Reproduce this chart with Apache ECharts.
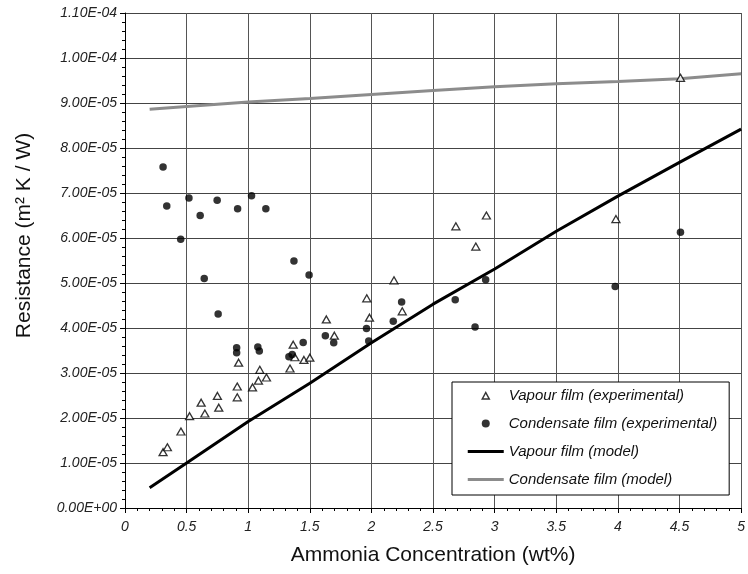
<!DOCTYPE html>
<html>
<head>
<meta charset="utf-8">
<script src="https://cdn.jsdelivr.net/npm/echarts@6/dist/echarts.min.js"></script>
<style>
  html, body { margin: 0; padding: 0; background: #fff; }
  #chart { width: 748px; height: 574px; }
</style>
</head>
<body>
<div id="chart"></div>
<script>
// values; resistance in units of 1E-05 m2 K / W
var UNIT = 1e-5;

var vapourExpX = [0.309, 0.344, 0.454, 0.524, 0.618, 0.648, 0.750, 0.761, 0.911, 0.911, 0.922,
  1.035, 1.083, 1.094, 1.148, 1.339, 1.365, 1.379, 1.452, 1.500, 1.634, 1.699, 1.962, 1.984,
  2.183, 2.250, 2.685, 2.847, 2.933, 3.984, 4.508];
var vapourExpY = [1.24, 1.35, 1.70, 2.04, 2.34, 2.10, 2.49, 2.23, 2.46, 2.70, 3.23,
  2.68, 2.83, 3.07, 2.90, 3.10, 3.63, 3.35, 3.29, 3.34, 4.19, 3.83, 4.66, 4.23,
  5.06, 4.37, 6.26, 5.81, 6.50, 6.42, 9.56];

var condExpX = [0.309, 0.339, 0.452, 0.519, 0.610, 0.643, 0.748, 0.756, 0.906, 0.906, 0.914,
  1.027, 1.078, 1.090, 1.143, 1.330, 1.357, 1.371, 1.446, 1.494, 1.626, 1.694, 1.960, 1.978,
  2.177, 2.245, 2.680, 2.841, 2.927, 3.978, 4.508];
var condExpY = [7.58, 6.71, 5.97, 6.89, 6.50, 5.10, 6.84, 4.31, 3.56, 3.45, 6.65,
  6.94, 3.58, 3.49, 6.65, 3.36, 3.41, 5.49, 3.68, 5.18, 3.83, 3.67, 3.99, 3.71,
  4.15, 4.58, 4.63, 4.02, 5.07, 4.92, 6.13];

var modelX = [0.2, 0.5, 1.0, 1.5, 2.0, 2.5, 3.0, 3.5, 4.0, 4.5, 5.0];
var vapourModelY = [0.45, 1.00, 1.92, 2.77, 3.67, 4.53, 5.31, 6.15, 6.93, 7.68, 8.42];
var condModelY = [8.86, 8.92, 9.02, 9.10, 9.19, 9.28, 9.36, 9.43, 9.48, 9.54, 9.65];

var FONT = 'Liberation Sans, Arial, sans-serif';
var GREY = '#8c8c8c';

// legend icons: the zero-length segments pin the box to 36x8 so nothing gets stretched
var ICON_TRI = 'path://M0,0L0,0M36,8L36,8M14.5,7.5L18,1L21.5,7.5Z';
var ICON_LINE = 'path://M0,0L0,0M36,8L36,8M0,2.5H36V5.5H0Z';

function pairs(xs, ys) {
  return xs.map(function (x, i) { return [x, ys[i] * UNIT]; });
}

// 1.10E-04 style labels
function sci(v) {
  if (Math.abs(v) < 1e-12) return '0.00E+00';
  var e = Math.floor(Math.log10(Math.abs(v)) + 1e-9);
  var m = v / Math.pow(10, e);
  if (Math.abs(m) >= 9.995) { m = m / 10; e++; }
  var ae = Math.abs(e);
  return m.toFixed(2) + 'E' + (e < 0 ? '-' : '+') + (ae < 10 ? '0' : '') + ae;
}

var chart = echarts.init(document.getElementById('chart'));
chart.setOption({
  backgroundColor: '#fff',
  animation: false,
  grid: { left: 125, right: 3, top: 13, bottom: 66 },
  legend: {
    orient: 'vertical',
    left: 452,
    top: 382,
    padding: [6, 12, 8, 15],
    itemWidth: 36,
    itemHeight: 8,
    itemGap: 13,
    backgroundColor: '#fff',
    borderColor: '#000',
    borderWidth: 1,
    textStyle: { fontFamily: FONT, fontStyle: 'italic', fontSize: 15, color: '#111' },
    data: [
      { name: 'Vapour film (experimental)', icon: ICON_TRI,
        itemStyle: { color: '#fff', borderColor: '#000', borderWidth: 1.5 } },
      { name: 'Condensate film (experimental)', icon: 'circle',
        itemStyle: { color: '#000', borderWidth: 0 } },
      { name: 'Vapour film (model)', icon: ICON_LINE,
        itemStyle: { color: '#000', borderWidth: 0 } },
      { name: 'Condensate film (model)', icon: ICON_LINE,
        itemStyle: { color: GREY, borderWidth: 0 } }
    ]
  },
  xAxis: {
    type: 'value',
    min: 0,
    max: 5,
    interval: 0.5,
    name: 'Ammonia Concentration (wt%)',
    nameLocation: 'middle',
    nameGap: 37,
    nameTextStyle: { fontFamily: FONT, fontSize: 21, color: '#111' },
    axisLine: { lineStyle: { color: '#000', width: 1 } },
    axisTick: { length: 5, lineStyle: { color: '#000' } },
    minorTick: { show: true, splitNumber: 5, length: 3, lineStyle: { color: '#000' } },
    splitLine: { show: true, lineStyle: { color: '#555', width: 1 } },
    axisLabel: { fontFamily: FONT, fontStyle: 'italic', fontSize: 14, color: '#222', margin: 12 }
  },
  yAxis: {
    type: 'value',
    min: 0,
    max: 1.1e-4,
    interval: 1e-5,
    name: 'Resistance (m\u00b2 K / W)',
    nameLocation: 'middle',
    nameGap: 90,
    nameTextStyle: { fontFamily: FONT, fontSize: 21, color: '#111', padding: [0, 0, 0, 50] },
    axisLine: { show: true, lineStyle: { color: '#000', width: 1 } },
    axisTick: { show: true, length: 5, lineStyle: { color: '#000' } },
    minorTick: { show: true, splitNumber: 5, length: 3, lineStyle: { color: '#000' } },
    splitLine: { show: true, lineStyle: { color: '#444', width: 1 } },
    axisLabel: {
      fontFamily: FONT, fontStyle: 'italic', fontSize: 14, color: '#222', margin: 8,
      formatter: sci
    }
  },
  series: [{
    name: 'Vapour film (experimental)',
    type: 'scatter',
    symbol: 'triangle',
    symbolSize: [8, 7],
    itemStyle: { color: '#fff', borderColor: '#000', borderWidth: 1.3 },
    data: pairs(vapourExpX, vapourExpY),
    z: 4
  }, {
    name: 'Condensate film (experimental)',
    type: 'scatter',
    symbol: 'circle',
    symbolSize: 7.5,
    itemStyle: { color: '#000' },
    data: pairs(condExpX, condExpY),
    z: 4
  }, {
    name: 'Vapour film (model)',
    type: 'line',
    symbol: 'none',
    lineStyle: { color: '#000', width: 3 },
    itemStyle: { color: '#000' },
    data: pairs(modelX, vapourModelY),
    z: 3
  }, {
    name: 'Condensate film (model)',
    type: 'line',
    symbol: 'none',
    lineStyle: { color: GREY, width: 3 },
    itemStyle: { color: GREY },
    data: pairs(modelX, condModelY),
    z: 3
  }]
});
</script>
</body>
</html>
